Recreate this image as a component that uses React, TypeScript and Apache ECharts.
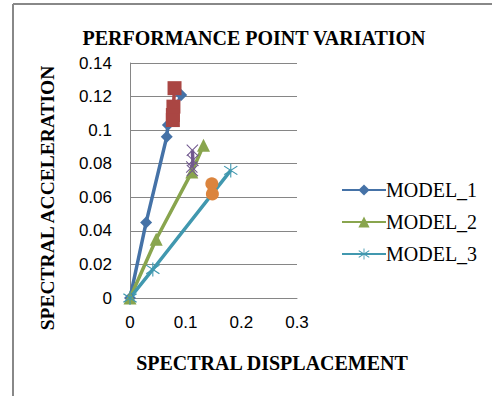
import React, { useEffect, useRef } from "react";
import * as echarts from "echarts";

const model1X = [0, 0.029, 0.066, 0.068, 0.092];
const model1Y = [0, 0.045, 0.096, 0.103, 0.121];
const pp1X = [0.08, 0.078, 0.077, 0.077];
const pp1Y = [0.125, 0.114, 0.109, 0.106];
const model2X = [0, 0.047, 0.111, 0.132];
const model2Y = [0, 0.035, 0.075, 0.091];
const pp2X = [0.112, 0.113, 0.111, 0.112];
const pp2Y = [0.088, 0.082, 0.078, 0.076];
const model3X = [0, 0.041, 0.181];
const model3Y = [0, 0.017, 0.076];
const pp3X = [0.147, 0.148];
const pp3Y = [0.068, 0.062];

const titleText = "PERFORMANCE POINT VARIATION";
const xName = "SPECTRAL DISPLACEMENT";
const yName = "SPECTRAL ACCELERATION";

const ASTERISK =
  "path://M9.3 0L10.7 0L10.7 20L9.3 20Z M1 4.5L2 3.3L19 15.5L18 16.7Z M18 3.3L19 4.5L2 16.7L1 15.5Z";
const XMARK = "path://M0 1.2L1.2 0L20 18.8L18.8 20Z M18.8 0L20 1.2L1.2 20L0 18.8Z";

const zip = (xs: number[], ys: number[]) => xs.map((x, i) => [x, ys[i]]);

export default function App() {
  const ref = useRef<HTMLDivElement>(null);
  useEffect(() => {
    if (!ref.current) return;
    const chart = echarts.init(ref.current, undefined, { renderer: "svg" });
    const serif = "'Liberation Serif', 'Times New Roman', serif";
    const sans = "'Liberation Sans', Arial, sans-serif";
    const mk = (name: string, xs: number[], ys: number[], color: string, symbol: string, size: number) => ({
      name,
      type: "line",
      data: zip(xs, ys),
      symbol,
      symbolSize: size,
      showSymbol: true,
      lineStyle: { color, width: 3.5 },
      itemStyle: { color, borderWidth: 0 },
      emphasis: { disabled: true },
    });
    const bigText = (text: string, x: number, y: number, size: number, rotation = 0) => ({
      type: "text",
      x,
      y,
      rotation,
      style: {
        text,
        fontFamily: serif,
        fontWeight: "bold",
        fontSize: size,
        fill: "#000",
        align: "center",
        verticalAlign: "middle",
      },
    });
    chart.setOption({
      animation: false,
      backgroundColor: "#fff",
      grid: { left: 130, right: 195, top: 63, bottom: 98, outerBoundsMode: "none" },
      xAxis: {
        type: "value",
        min: 0,
        max: 0.3,
        interval: 0.1,
        axisLine: { show: true, lineStyle: { color: "#868686", width: 1 } },
        axisTick: { show: false },
        splitLine: { show: false },
        axisLabel: { color: "#000", fontFamily: sans, fontSize: 17, margin: 16 },
      },
      yAxis: {
        type: "value",
        min: 0,
        max: 0.14,
        interval: 0.02,
        axisLine: { show: true, lineStyle: { color: "#868686", width: 1 } },
        axisTick: { show: false },
        splitLine: { show: true, lineStyle: { color: "#868686", width: 1 } },
        axisLabel: {
          color: "#000",
          fontFamily: sans,
          fontSize: 17,
          margin: 18,
          formatter: (v: number) => String(Math.round(v * 100) / 100),
        },
      },
      legend: {
        data: ["MODEL_1", "MODEL_2", "MODEL_3"],
        orient: "vertical",
        left: 336,
        top: 175,
        itemWidth: 44,
        itemHeight: 14,
        itemGap: 12,
        textStyle: { color: "#000", fontFamily: serif, fontSize: 20, padding: [0, 0, 0, -5], lineHeight: 20 },
      },
      series: [
        mk("MODEL_1", model1X, model1Y, "#4572A7", "diamond", 12),
        mk("PP_1", pp1X, pp1Y, "#AA4643", "rect", 14),
        mk("MODEL_2", model2X, model2Y, "#89A54E", "triangle", 13),
        mk("PP_2", pp2X, pp2Y, "#71588F", XMARK, 12),
        mk("MODEL_3", model3X, model3Y, "#4198AF", ASTERISK, 14),
        mk("PP_3", pp3X, pp3Y, "#DB843D", "circle", 13),
      ],
      graphic: [
        { type: "line", shape: { x1: 13, y1: 4, x2: 13, y2: 396 }, style: { stroke: "#888", lineWidth: 2 } },
        { type: "line", shape: { x1: 13, y1: 4, x2: 492, y2: 4 }, style: { stroke: "#888", lineWidth: 2 } },
        bigText(titleText, 254, 38, 20),
        bigText(xName, 272, 363, 20),
        bigText(yName, 47, 198, 19.5, Math.PI / 2),
      ],
    });
    return () => chart.dispose();
  }, []);
  return <div ref={ref} style={{ position: "fixed", left: 0, top: 0, width: 492, height: 396 }} />;
}
